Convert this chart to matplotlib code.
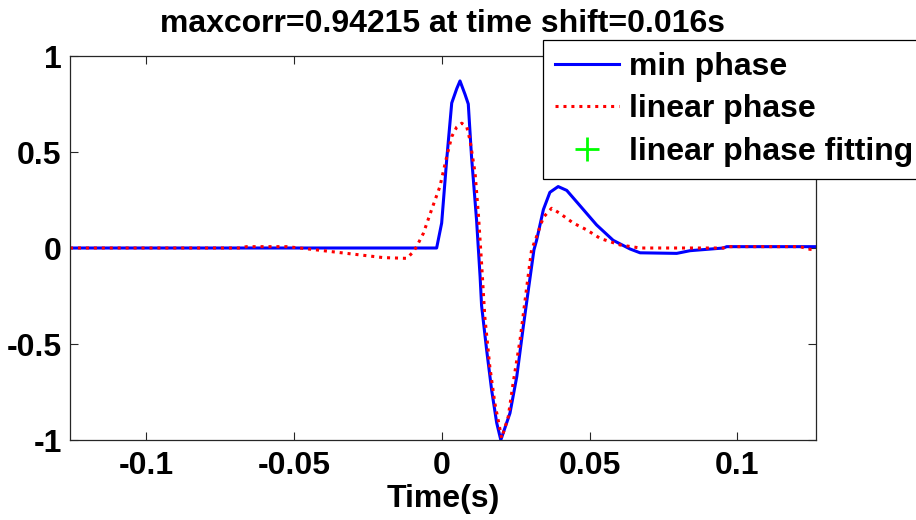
import matplotlib
matplotlib.use("Agg")
import matplotlib.pyplot as plt

# values
t_min = [-0.1257, -0.0017, 0.0, 0.0017, 0.0034, 0.0051, 0.0062, 0.0079, 0.009,
         0.0101, 0.0118, 0.013, 0.0135, 0.0152, 0.0169, 0.0186, 0.020, 0.0231,
         0.0254, 0.0276, 0.0293, 0.0312, 0.0321, 0.0344, 0.0366, 0.0394, 0.0423,
         0.0468, 0.0524, 0.058, 0.0637, 0.0671, 0.0795, 0.084, 0.0953, 0.0964,
         0.1266]
min_phase = [0.0, 0.0, 0.13, 0.46, 0.755, 0.83, 0.87, 0.80, 0.75,
             0.475, 0.146, -0.15, -0.3, -0.53, -0.74, -0.91, -1.0, -0.86,
             -0.67, -0.41, -0.22, -0.01, 0.04, 0.2, 0.29, 0.32, 0.30,
             0.22, 0.12, 0.04, -0.005, -0.025, -0.028, -0.014, 0.0, 0.007,
             0.007]

t_lin = [-0.1257, -0.0682, -0.066, -0.0524, -0.048, -0.0423, -0.0276, -0.0198,
         -0.0118, -0.0096, -0.0085, -0.0062, -0.0034, -0.0006, 0.0017, 0.0034,
         0.0051, 0.0068, 0.0085, 0.0096, 0.0113, 0.0124, 0.0135, 0.0146, 0.0163,
         0.018, 0.0203, 0.0225, 0.0242, 0.0265, 0.0288, 0.0304, 0.0321, 0.0344,
         0.0372, 0.04, 0.0445, 0.0491, 0.0536, 0.0603, 0.0671, 0.0952, 0.0964,
         0.1212, 0.1246, 0.1266]
linear_phase = [0.0, 0.0, 0.007, 0.007, 0.0, -0.01, -0.036, -0.05,
                -0.054, -0.02, 0.007, 0.076, 0.2, 0.32, 0.475, 0.58,
                0.63, 0.65, 0.63, 0.56, 0.39, 0.18, -0.08, -0.36, -0.62,
                -0.81, -0.99, -0.88, -0.70, -0.48, -0.2, -0.01, 0.06, 0.16,
                0.207, 0.18, 0.13, 0.094, 0.05, 0.016, 0.0, 0.0, 0.007,
                0.007, -0.007, -0.007]

# nothing of the fit shows inside the axes, only in the legend
t_fit = []
fit = []

maxcorr = 0.94215
shift = 0.016

plt.rcParams['font.family'] = ['Liberation Sans', 'DejaVu Sans']
plt.rcParams['font.weight'] = 'bold'
plt.rcParams['font.size'] = 23

fig = plt.figure(figsize=(9.16, 5.2), dpi=100)
ax = fig.add_axes([70 / 916, 80 / 520, 746 / 916, 384 / 520])

ax.plot(t_min, min_phase, color='#0000ff', lw=2.2, label='min phase')
ax.plot(t_lin, linear_phase, color='#ff0000', lw=2.2, ls=(0, (1, 1.6)),
        label='linear phase')
ax.plot(t_fit, fit, '+', color='#00ff00', ms=17, mew=2,
        label='linear phase fitting')

ax.set_xlim(-0.1257, 0.1266)
ax.set_ylim(-1, 1)
ax.set_xticks([-0.1, -0.05, 0, 0.05, 0.1])
ax.set_xticklabels(['-0.1', '-0.05', '0', '0.05', '0.1'])
ax.set_yticks([-1, -0.5, 0, 0.5, 1])
ax.set_yticklabels(['-1', '-0.5', '0', '0.5', '1'])
ax.tick_params(direction='in', length=6, width=0.8, top=True, right=True,
               color='#262626')
ax.tick_params(axis='x', pad=8)
ax.tick_params(axis='y', pad=6)
for s in ax.spines.values():
    s.set_linewidth(0.9)
    s.set_color('#262626')

ax.set_xlabel('Time(s)', fontweight='bold', labelpad=2)
ax.set_title('maxcorr=%.5f at time shift=%.3fs' % (maxcorr, shift),
             fontweight='bold', fontsize=23, pad=17)

leg = ax.legend(loc='upper left', bbox_to_anchor=(0.634, 1.042), fancybox=False,
                framealpha=1, edgecolor='black', borderpad=0.38, labelspacing=0.39,
                handlelength=2.0, handletextpad=0.3, borderaxespad=0)
leg.get_frame().set_linewidth(0.9)

fig.savefig('out.png', dpi=100)
